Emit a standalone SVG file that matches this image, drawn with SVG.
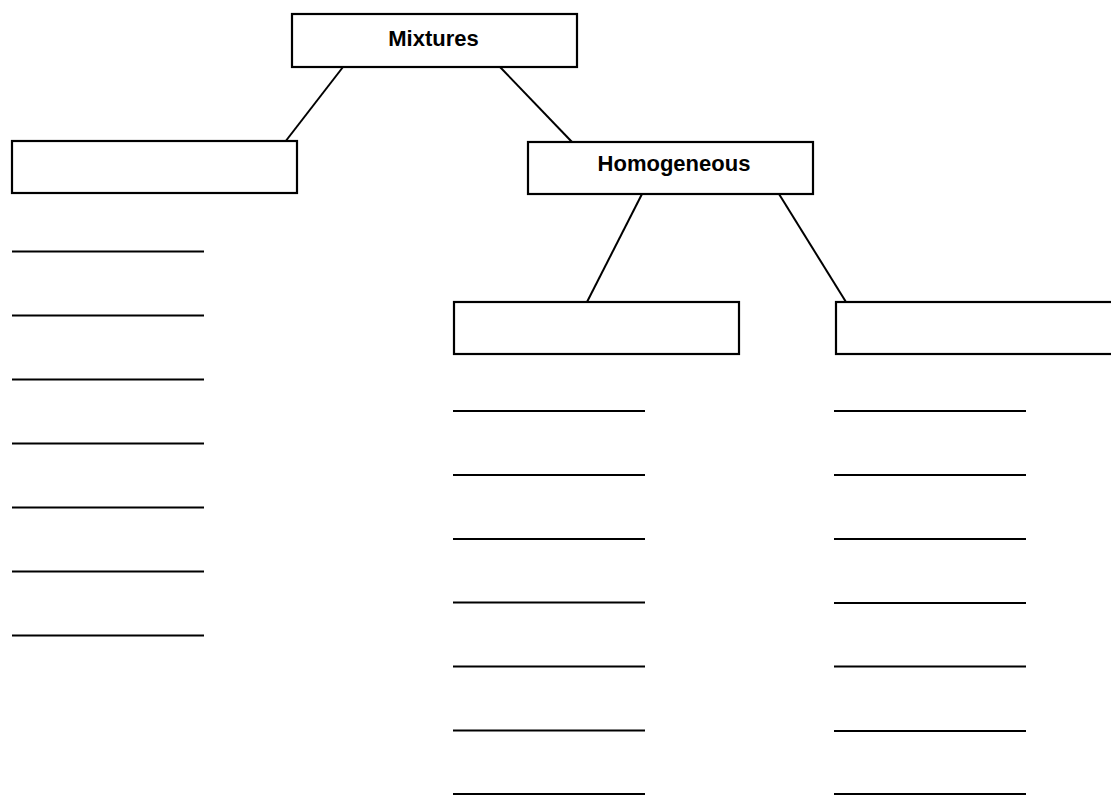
<svg xmlns="http://www.w3.org/2000/svg" width="1111" height="795" viewBox="0 0 1111 795">
<style>
.box{fill:#fff;stroke:#000;stroke-width:2.2}
.lbl{font-family:"Liberation Sans",Arial,sans-serif;font-weight:bold;font-size:22px;text-anchor:middle;fill:#000}
.con{stroke:#000;stroke-width:2;fill:none}
.blank{stroke:#000;stroke-width:2}
</style>
<rect width="1111" height="795" fill="#fff"/>
<g id="connectors">
<line class="con" x1="343" y1="67" x2="285" y2="142"/>
<line class="con" x1="500" y1="67" x2="572" y2="142"/>
<line class="con" x1="642" y1="194" x2="587" y2="302"/>
<line class="con" x1="779" y1="194" x2="846" y2="302"/>
</g>
<g id="node-mixtures">
<rect class="box" x="292" y="14" width="285" height="53"/>
<text class="lbl" x="433.5" y="46">Mixtures</text>
</g>
<g id="node-heterogeneous">
<rect class="box" x="12" y="141" width="285" height="52"/>
</g>
<g id="node-homogeneous">
<rect class="box" x="528" y="142" width="285" height="52"/>
<text class="lbl" x="674" y="171">Homogeneous</text>
</g>
<g id="node-solutions">
<rect class="box" x="454" y="302" width="285" height="52"/>
</g>
<g id="node-other">
<rect class="box" x="836" y="302" width="290" height="52"/>
</g>
<g id="blanks-left">
<line class="blank" x1="12" y1="251.5" x2="204" y2="251.5"/>
<line class="blank" x1="12" y1="315.5" x2="204" y2="315.5"/>
<line class="blank" x1="12" y1="379.5" x2="204" y2="379.5"/>
<line class="blank" x1="12" y1="443.5" x2="204" y2="443.5"/>
<line class="blank" x1="12" y1="507.5" x2="204" y2="507.5"/>
<line class="blank" x1="12" y1="571.5" x2="204" y2="571.5"/>
<line class="blank" x1="12" y1="635.5" x2="204" y2="635.5"/>
</g>
<g id="blanks-middle">
<line class="blank" x1="453" y1="411" x2="645" y2="411"/>
<line class="blank" x1="453" y1="475" x2="645" y2="475"/>
<line class="blank" x1="453" y1="539" x2="645" y2="539"/>
<line class="blank" x1="453" y1="602.5" x2="645" y2="602.5"/>
<line class="blank" x1="453" y1="666.5" x2="645" y2="666.5"/>
<line class="blank" x1="453" y1="730.5" x2="645" y2="730.5"/>
<line class="blank" x1="453" y1="794" x2="645" y2="794"/>
</g>
<g id="blanks-right">
<line class="blank" x1="834" y1="411" x2="1026" y2="411"/>
<line class="blank" x1="834" y1="475" x2="1026" y2="475"/>
<line class="blank" x1="834" y1="539" x2="1026" y2="539"/>
<line class="blank" x1="834" y1="603" x2="1026" y2="603"/>
<line class="blank" x1="834" y1="666.5" x2="1026" y2="666.5"/>
<line class="blank" x1="834" y1="731" x2="1026" y2="731"/>
<line class="blank" x1="834" y1="794" x2="1026" y2="794"/>
</g>
</svg>
